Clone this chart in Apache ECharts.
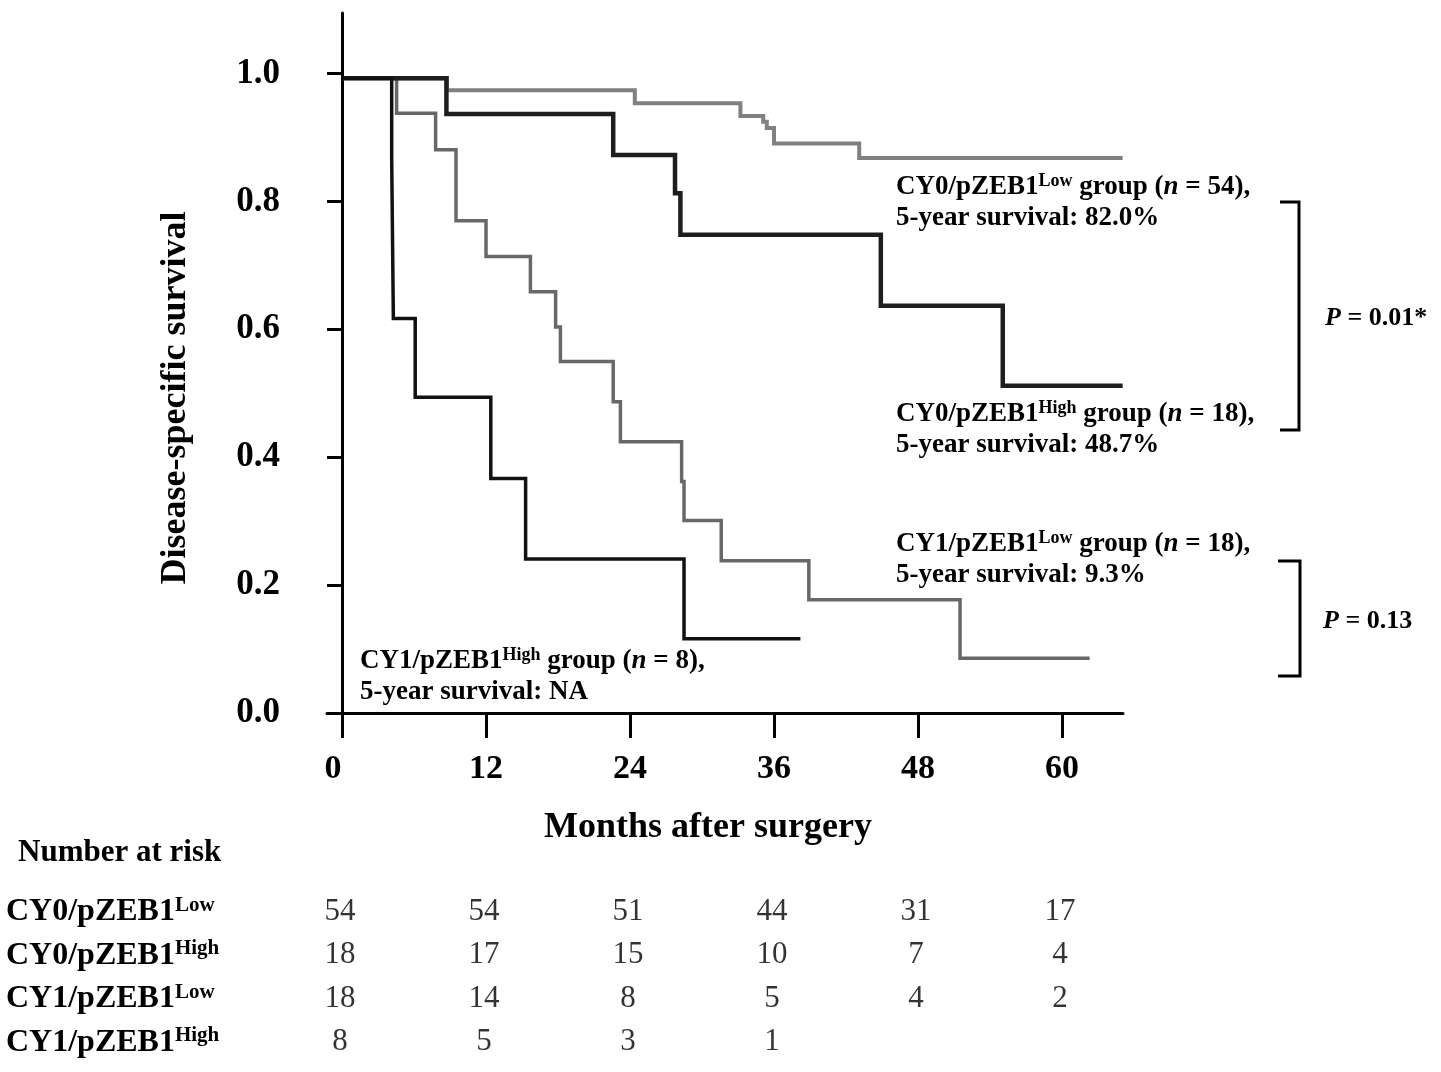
<!DOCTYPE html>
<html><head><meta charset="utf-8">
<script src="https://cdn.jsdelivr.net/npm/echarts@6/dist/echarts.min.js"></script>
<style>html,body{margin:0;padding:0;background:#fff}#c{width:1441px;height:1072px}</style>
</head><body><div id="c"></div>
<script>
const FONT = 'Liberation Serif';

// axis ticks
const xTicks = [0, 12, 24, 36, 48, 60];
const yTicks = [0, 0.2, 0.4, 0.6, 0.8, 1.0];

// Kaplan-Meier curves (months, survival)
const cy0LowT = [0, 8.75, 24.4, 33.2, 35.1, 35.4, 36.0, 43.1, 65.05];
const cy0LowS = [0.993, 0.974, 0.954, 0.934, 0.925, 0.915, 0.891, 0.868, 0.868];

const cy0HighT = [0, 8.7, 22.6, 27.75, 28.2, 44.9, 55.06, 65.05];
const cy0HighS = [0.993, 0.937, 0.873, 0.813, 0.748, 0.637, 0.512, 0.512];

const cy1LowT = [0, 4.55, 7.8, 9.5, 12.0, 15.7, 17.8, 18.2, 22.6, 23.2, 28.3, 28.5, 31.6, 38.9, 51.5, 62.3];
const cy1LowS = [0.993, 0.938, 0.881, 0.770, 0.714, 0.659, 0.604, 0.550, 0.487, 0.4245, 0.362, 0.301, 0.238, 0.177, 0.0856, 0.0856];

const cy1HighT = [0, 4.14, 4.28, 6.1, 12.4, 15.3, 28.5, 38.2];
const cy1HighS = [0.993, 0.868, 0.617, 0.494, 0.367, 0.241, 0.116, 0.116];

// number at risk table
const riskTimes = [0, 12, 24, 36, 48, 60];
const riskRowKeys = ['r0', 'r1', 'r2', 'r3'];
const riskRowBase = ['CY0/pZEB1', 'CY0/pZEB1', 'CY1/pZEB1', 'CY1/pZEB1'];
const riskRowSup = ['Low', 'High', 'Low', 'High'];
const riskCY0Low = [54, 54, 51, 44, 31, 17];
const riskCY0High = [18, 17, 15, 10, 7, 4];
const riskCY1Low = [18, 14, 8, 5, 4, 2];
const riskCY1High = [8, 5, 3, 1];

const pair = (t, s) => t.map((v, i) => [v, s[i]]);
const riskData = [];
[riskCY0Low, riskCY0High, riskCY1Low, riskCY1High].forEach((row, r) => {
  row.forEach((v, i) => riskData.push([riskTimes[i], riskRowKeys[r], v]));
});

const annRich = {
  b: {fontFamily: FONT, fontWeight: 'bold', fontSize: 27, lineHeight: 31, fill: '#000', color: '#000'},
  s: {fontFamily: FONT, fontWeight: 'bold', fontSize: 18, lineHeight: 18, verticalAlign: 'top', fill: '#000', color: '#000'},
  i: {fontFamily: FONT, fontWeight: 'bold', fontStyle: 'italic', fontSize: 27, lineHeight: 31, fill: '#000', color: '#000'}
};
function ann(x, y, base, sup, n, surv) {
  return {
    type: 'text', x: x, y: y, silent: true,
    style: {
      text: '{b|' + base + '}{s|' + sup + '}{b| group (}{i|n}{b| = ' + n + '),}\n{b|5-year survival: ' + surv + '}',
      rich: annRich, fill: '#000', verticalAlign: 'top', align: 'left'
    }
  };
}
function pText(x, y, val) {
  return {
    type: 'text', x: x, y: y, silent: true,
    style: {
      text: '{i|P}{b| = ' + val + '}',
      rich: {
        b: {fontFamily: FONT, fontWeight: 'bold', fontSize: 26, fill: '#000'},
        i: {fontFamily: FONT, fontWeight: 'bold', fontStyle: 'italic', fontSize: 26, fill: '#000'}
      },
      verticalAlign: 'middle', align: 'left'
    }
  };
}

const lineSeries = (name, t, s, color, width) => ({
  type: 'line', name: name, data: pair(t, s), step: 'end', symbol: 'none', silent: true,
  xAxisIndex: 0, yAxisIndex: 0,
  lineStyle: {color: color, width: width, cap: 'butt', join: 'miter'}
});

const chart = echarts.init(document.getElementById('c'));
chart.setOption({
  animation: false,
  backgroundColor: '#fff',
  textStyle: {fontFamily: FONT},
  grid: [
    {left: 327, top: 13, width: 796, height: 700},
    {left: 327, top: 890, width: 796, height: 174}
  ],
  xAxis: [
    {
      type: 'value', gridIndex: 0, min: -1.25, max: 65.08,
      axisLine: {show: true, lineStyle: {color: '#000', width: 3}},
      axisTick: {show: true, length: 25, customValues: xTicks, lineStyle: {color: '#000', width: 3}},
      axisLabel: {
        customValues: xTicks, margin: 39, color: '#000', fontFamily: FONT, fontWeight: 'bold', fontSize: 34,
        formatter: v => (v === 0 ? '{z|0}' : String(v)),
        rich: {z: {fontFamily: FONT, fontWeight: 'bold', fontSize: 34, padding: [0, 18, 0, 0]}}
      },
      splitLine: {show: false}
    },
    {type: 'value', gridIndex: 1, min: -1.25, max: 65.08, show: false}
  ],
  yAxis: [
    {
      type: 'value', gridIndex: 0, min: 0, max: 1.095,
      axisLine: {show: true, onZero: true, lineStyle: {color: '#000', width: 3}},
      axisTick: {show: true, length: 15, customValues: yTicks, lineStyle: {color: '#000', width: 3}},
      axisLabel: {
        customValues: yTicks, margin: 47, color: '#000', fontFamily: FONT, fontWeight: 'bold', fontSize: 35,
        formatter: v => v.toFixed(1)
      },
      splitLine: {show: false}
    },
    {
      type: 'category', gridIndex: 1, data: riskRowKeys, inverse: true,
      axisLine: {show: false, onZero: false}, axisTick: {show: false}, splitLine: {show: false},
      axisLabel: {
        show: true, align: 'left', margin: 321,
        formatter: (v, i) => '{b|' + riskRowBase[i] + '}{s|' + riskRowSup[i] + '}',
        rich: {
          b: {fontFamily: FONT, fontWeight: 'bold', fontSize: 32, lineHeight: 34, color: '#000'},
          s: {fontFamily: FONT, fontWeight: 'bold', fontSize: 21, lineHeight: 21, verticalAlign: 'top', color: '#000'}
        }
      }
    }
  ],
  series: [
    lineSeries('CY0/pZEB1 Low', cy0LowT, cy0LowS, '#808080', 4),
    lineSeries('CY1/pZEB1 Low', cy1LowT, cy1LowS, '#686868', 3.5),
    lineSeries('CY0/pZEB1 High', cy0HighT, cy0HighS, '#1e1e1e', 4.5),
    lineSeries('CY1/pZEB1 High', cy1HighT, cy1HighS, '#111', 3.5),
    {
      type: 'scatter', xAxisIndex: 1, yAxisIndex: 1, silent: true, data: riskData,
      symbolSize: 1, itemStyle: {color: 'rgba(0,0,0,0)'},
      label: {show: true, position: 'inside', formatter: p => String(p.value[2]), offset: [-2, 0],
        color: '#000', fontFamily: FONT, fontSize: 31}
    }
  ],
  graphic: [
    {type: 'text', x: 176, y: 398, rotation: Math.PI / 2, silent: true,
      style: {text: 'Disease-specific survival', fontFamily: FONT, fontWeight: 'bold', fontSize: 36, fill: '#000', align: 'center', verticalAlign: 'middle'}},
    {type: 'text', x: 708, y: 828, silent: true,
      style: {text: 'Months after surgery', fontFamily: FONT, fontWeight: 'bold', fontSize: 36, fill: '#000', align: 'center', verticalAlign: 'middle'}},
    {type: 'text', x: 18, y: 853, silent: true,
      style: {text: 'Number at risk', fontFamily: FONT, fontWeight: 'bold', fontSize: 31, fill: '#000', align: 'left', verticalAlign: 'middle'}},
    ann(896, 172, 'CY0/pZEB1', 'Low', 54, '82.0%'),
    ann(896, 399, 'CY0/pZEB1', 'High', 18, '48.7%'),
    ann(896, 529, 'CY1/pZEB1', 'Low', 18, '9.3%'),
    ann(360, 646, 'CY1/pZEB1', 'High', 8, 'NA'),
    {type: 'polyline', silent: true, shape: {points: [[1280, 202], [1299, 202], [1299, 430], [1280, 430]]},
      style: {stroke: '#000', lineWidth: 3, fill: null}},
    {type: 'polyline', silent: true, shape: {points: [[1278, 561], [1300, 561], [1300, 676], [1278, 676]]},
      style: {stroke: '#000', lineWidth: 3, fill: null}},
    pText(1325, 318, '0.01*'),
    pText(1323, 621, '0.13')
  ]
});
</script>
</body></html>
